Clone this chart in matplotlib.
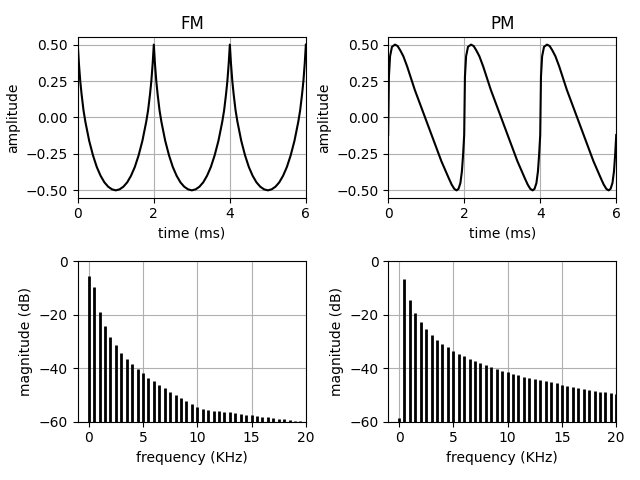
import matplotlib
matplotlib.use('Agg')
import matplotlib.pyplot as plt

# FM waveform (time in ms)
fm_t = [0.0, 0.03, 0.065, 0.1, 0.15, 0.2, 0.3, 0.4, 0.5, 0.6, 0.7, 0.8, 0.9,
        1.0, 1.1, 1.2, 1.3, 1.4, 1.5, 1.6, 1.7, 1.8, 1.85, 1.9, 1.935, 1.97,
        2.0, 2.03, 2.065, 2.1, 2.15, 2.2, 2.3, 2.4, 2.5, 2.6, 2.7, 2.8, 2.9,
        3.0, 3.1, 3.2, 3.3, 3.4, 3.5, 3.6, 3.7, 3.8, 3.85, 3.9, 3.935, 3.97,
        4.0, 4.03, 4.065, 4.1, 4.15, 4.2, 4.3, 4.4, 4.5, 4.6, 4.7, 4.8, 4.9,
        5.0, 5.1, 5.2, 5.3, 5.4, 5.5, 5.6, 5.7, 5.8, 5.85, 5.9, 5.935, 5.97,
        6.0]
fm_y = [0.50, 0.37, 0.25, 0.16, 0.05, -0.03, -0.16, -0.26, -0.34, -0.40, -0.445, -0.475, -0.493,
        -0.50, -0.493, -0.475, -0.445, -0.40, -0.34, -0.26, -0.16, -0.03, 0.05, 0.16, 0.25, 0.37,
        0.50, 0.37, 0.25, 0.16, 0.05, -0.03, -0.16, -0.26, -0.34, -0.40, -0.445, -0.475, -0.493,
        -0.50, -0.493, -0.475, -0.445, -0.40, -0.34, -0.26, -0.16, -0.03, 0.05, 0.16, 0.25, 0.37,
        0.50, 0.37, 0.25, 0.16, 0.05, -0.03, -0.16, -0.26, -0.34, -0.40, -0.445, -0.475, -0.493,
        -0.50, -0.493, -0.475, -0.445, -0.40, -0.34, -0.26, -0.16, -0.03, 0.05, 0.16, 0.25, 0.37,
        0.50]

# PM waveform
pm_t = [0.0, 0.02, 0.05, 0.1, 0.18, 0.25, 0.32, 0.4, 0.5, 0.6, 0.7, 0.8, 0.9, 1.0, 1.1, 1.2,
        1.3, 1.4, 1.5, 1.6, 1.67, 1.74, 1.8, 1.85, 1.9, 1.94, 1.97,
        2.0, 2.02, 2.05, 2.1, 2.18, 2.25, 2.32, 2.4, 2.5, 2.6, 2.7, 2.8, 2.9, 3.0, 3.1, 3.2,
        3.3, 3.4, 3.5, 3.6, 3.67, 3.74, 3.8, 3.85, 3.9, 3.94, 3.97,
        4.0, 4.02, 4.05, 4.1, 4.18, 4.25, 4.32, 4.4, 4.5, 4.6, 4.7, 4.8, 4.9, 5.0, 5.1, 5.2,
        5.3, 5.4, 5.5, 5.6, 5.67, 5.74, 5.8, 5.85, 5.9, 5.94, 5.97,
        6.0]
pm_y = [-0.12, 0.28, 0.42, 0.485, 0.50, 0.49, 0.46, 0.42, 0.35, 0.27, 0.19, 0.12, 0.05, -0.02, -0.09, -0.16,
        -0.23, -0.30, -0.36, -0.42, -0.46, -0.49, -0.50, -0.49, -0.45, -0.37, -0.26,
        -0.12, 0.28, 0.42, 0.485, 0.50, 0.49, 0.46, 0.42, 0.35, 0.27, 0.19, 0.12, 0.05, -0.02, -0.09, -0.16,
        -0.23, -0.30, -0.36, -0.42, -0.46, -0.49, -0.50, -0.49, -0.45, -0.37, -0.26,
        -0.12, 0.28, 0.42, 0.485, 0.50, 0.49, 0.46, 0.42, 0.35, 0.27, 0.19, 0.12, 0.05, -0.02, -0.09, -0.16,
        -0.23, -0.30, -0.36, -0.42, -0.46, -0.49, -0.50, -0.49, -0.45, -0.37, -0.26,
        -0.12]

# spectra, one line every 0.5 KHz
freqs = [0.0, 0.5, 1.0, 1.5, 2.0, 2.5, 3.0, 3.5, 4.0, 4.5, 5.0, 5.5, 6.0, 6.5, 7.0,
         7.5, 8.0, 8.5, 9.0, 9.5, 10.0, 10.5, 11.0, 11.5, 12.0, 12.5, 13.0, 13.5,
         14.0, 14.5, 15.0, 15.5, 16.0, 16.5, 17.0, 17.5, 18.0, 18.5, 19.0, 19.5, 20.0]
fm_db = [-5.4, -9.4, -18.8, -24.3, -28.4, -31.4, -34.1, -36.4, -38.5, -40.3, -41.9,
         -43.5, -44.9, -46.3, -47.5, -48.8, -49.9, -51.0, -52.1, -53.2, -54.4,
         -55.4, -55.7, -55.9, -56.0, -56.3, -56.5, -56.8, -57.0, -57.3, -57.5,
         -57.9, -58.1, -58.4, -58.6, -58.9, -59.1, -59.4, -59.6, -59.9, -60.0]
pm_db = [-58.5, -6.6, -14.6, -19.4, -22.6, -25.3, -27.4, -29.3, -30.8, -32.1, -33.4,
         -34.5, -35.5, -36.4, -37.3, -38.0, -38.8, -39.5, -40.1, -40.9, -41.5,
         -42.0, -42.6, -43.1, -43.6, -44.0, -44.5, -44.9, -45.3, -45.6, -46.1,
         -46.6, -47.0, -47.4, -47.8, -48.0, -48.4, -48.8, -49.0, -49.4, -49.6]

fig, axs = plt.subplots(2, 2, figsize=(6.4, 4.8), dpi=100)

#waveforms
for ax, t, y, name in [(axs[0, 0], fm_t, fm_y, 'FM'), (axs[0, 1], pm_t, pm_y, 'PM')]:
    ax.plot(t, y, 'k', linewidth=1.5)
    ax.set_xlim(0, 6)
    ax.set_title(name)
    ax.set_xlabel('time (ms)')
    ax.set_ylabel('amplitude')
    ax.grid(True)

#spectra
for ax, db in [(axs[1, 0], fm_db), (axs[1, 1], pm_db)]:
    ax.vlines(freqs, -60, db, colors='k', linewidth=2)
    ax.set_xlim(-1, 20)
    ax.set_ylim(-60, 0)
    ax.set_xticks([0, 5, 10, 15, 20])
    ax.set_xlabel('frequency (KHz)')
    ax.set_ylabel('magnitude (dB)')
    ax.grid(True)

plt.tight_layout()
plt.savefig('out.png')
